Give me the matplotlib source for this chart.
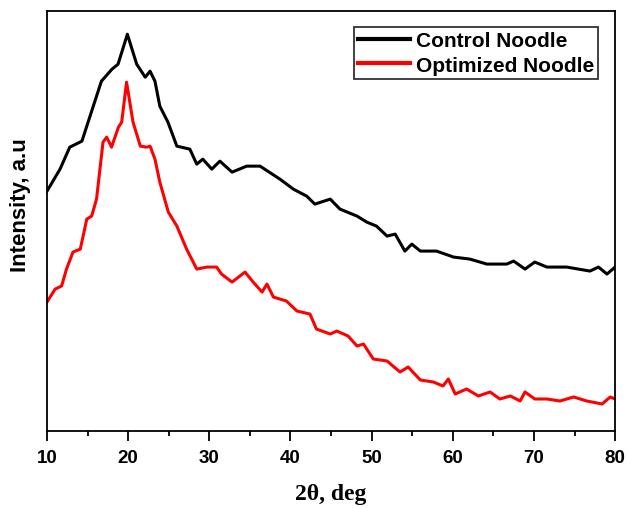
import matplotlib
matplotlib.use("Agg")
import matplotlib.pyplot as plt
from matplotlib.ticker import MultipleLocator

# 2theta (deg) and intensity (a.u.)
control_x = [10.0, 11.6, 12.8, 14.3, 15.3, 16.7, 18.0, 18.75, 19.9, 21.05,
             22.1, 22.7, 23.3, 23.9, 24.9, 26.0, 27.6, 28.45, 29.2, 30.3,
             31.3, 32.8, 34.6, 36.25, 38.7, 40.35, 42.0, 43.0, 44.9, 46.1,
             48.2, 49.4, 50.6, 51.9, 52.9, 54.1, 54.95, 56.0, 58.0, 60.1,
             62.1, 64.2, 66.65, 67.5, 68.9, 70.1, 71.6, 74.05, 76.9, 77.95,
             79.0, 80.0]
control_y = [240, 262, 284, 290, 315, 350, 362, 367, 397, 367,
             354, 360, 350, 325, 309, 285, 282, 267, 272, 262,
             270, 259, 265, 265, 252, 242, 235, 227, 232, 222,
             215, 209, 205, 195, 197, 180, 187, 180, 180, 174,
             172, 167, 167, 170, 162, 169, 164, 164, 160, 164,
             157, 164]

optimized_x = [10.0, 11.0, 11.8, 12.4, 13.2, 14.1, 14.9, 15.5, 16.1, 16.9,
               17.35, 17.95, 18.8, 19.2, 19.8, 20.6, 21.5, 22.3, 22.7, 23.3,
               23.9, 24.95, 26.0, 27.2, 28.45, 29.7, 30.9, 31.5, 32.8, 34.4,
               35.4, 36.5, 37.1, 37.9, 39.5, 40.8, 42.4, 43.2, 44.9, 45.7,
               47.1, 48.2, 49.0, 50.2, 51.9, 53.5, 54.5, 56.0, 57.6, 58.8,
               59.45, 60.3, 61.7, 63.15, 64.6, 65.8, 67.1, 68.3, 68.9, 70.1,
               71.6, 73.2, 74.9, 76.5, 78.4, 79.4, 80.0]
optimized_y = [129, 142, 145, 162, 179, 182, 212, 215, 232, 289,
               294, 284, 304, 309, 349, 309, 285, 284, 285, 272,
               249, 219, 205, 182, 162, 164, 164, 157, 149, 159,
               149, 139, 147, 134, 130, 120, 117, 102, 97, 100,
               95, 85, 87, 72, 70, 59, 64, 51, 49, 45,
               52, 37, 42, 35, 39, 32, 35, 30, 39, 32,
               32, 30, 34, 30, 27, 34, 32]

fig = plt.figure(figsize=(6.27, 5.10), dpi=100)
ax = fig.add_axes([0.075, 0.153, 0.906, 0.823])

ax.plot(control_x, control_y, color="black", lw=2.2, label="Control Noodle")
ax.plot(optimized_x, optimized_y, color="#ff0000", lw=2.2, label="Optimized Noodle")

ax.set_xlim(10, 80)
ax.set_ylim(0, 420)
ax.set_yticks([])
ax.xaxis.set_major_locator(MultipleLocator(10))
ax.xaxis.set_minor_locator(MultipleLocator(5))
ax.tick_params(axis="x", which="major", direction="out", length=7, width=1.3,
               labelsize=13.5, pad=6)
ax.tick_params(axis="x", which="minor", direction="out", length=3.5, width=1.3)
for lab in ax.get_xticklabels():
    lab.set_fontweight("bold")
    lab.set_fontfamily("Liberation Sans")
for sp in ax.spines.values():
    sp.set_linewidth(1.3)

ax.set_xlabel("2θ, deg", fontsize=17, fontweight="bold",
              fontfamily="Liberation Serif", labelpad=12)
ax.set_ylabel("Intensity, a.u", fontsize=16, fontweight="bold",
              fontfamily="Liberation Sans")
ax.yaxis.set_label_coords(-0.028, 0.54)

leg = ax.legend(loc="upper right", bbox_to_anchor=(0.970, 0.962),
                prop={"family": "Liberation Sans", "weight": "bold", "size": 15},
                frameon=True, fancybox=False, edgecolor="black",
                handlelength=2.5, handletextpad=0.25, borderpad=0.2,
                borderaxespad=0, labelspacing=0.25)
leg.get_frame().set_linewidth(1.3)
for line in leg.get_lines():
    line.set_linewidth(3)

fig.savefig("out.png", dpi=100)
